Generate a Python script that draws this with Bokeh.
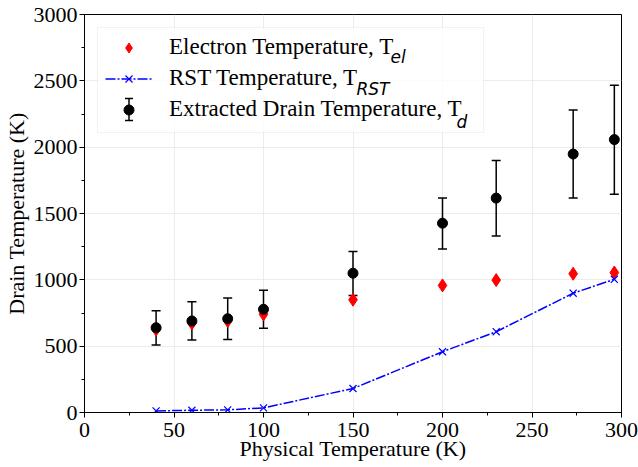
from bokeh.plotting import figure
from bokeh.models import (Range1d, SingleIntervalTicker, ColumnDataSource, Whisker,
                          TeeHead, Legend, LegendItem, Label, BoxAnnotation)
from bokeh.embed import file_html
from bokeh.resources import INLINE

# ---- data ----
phys_temp = [40, 60, 80, 100, 150, 200, 230, 273, 296]
t_el = [625, 672, 690, 740, 850, 958, 998, 1046, 1055]
t_rst = [12, 17, 20, 35, 181, 458, 609, 899, 1004]
t_d = [639, 690, 707, 778, 1050, 1427, 1616, 1948, 2057]
t_d_low = [508, 546, 551, 635, 882, 1233, 1331, 1616, 1646]
t_d_high = [767, 835, 863, 921, 1213, 1616, 1900, 2281, 2467]

legend_labels = ["Electron Temperature, T", "RST Temperature, T", "Extracted Drain Temperature, T"]
legend_subs = ["el", "RST", "d"]
x_label = "Physical Temperature (K)"
y_label = "Drain Temperature (K)"

SERIF = "Liberation Serif"

p = figure(width=638, height=467, x_range=Range1d(0, 300), y_range=Range1d(0, 3000),
           output_backend="svg", toolbar_location=None,
           min_border_left=83, min_border_right=17, min_border_top=14, min_border_bottom=55)

p.outline_line_color = "black"
p.outline_line_width = 1
p.background_fill_color = "white"
p.border_fill_color = "white"

p.xaxis.ticker = SingleIntervalTicker(interval=50, num_minor_ticks=2)
p.yaxis.ticker = SingleIntervalTicker(interval=500, num_minor_ticks=2)
for ax in (p.xaxis, p.yaxis):
    ax.major_label_text_font = SERIF
    ax.major_label_text_font_size = "22px"
    ax.major_label_text_color = "black"
    ax.axis_label_text_font = SERIF
    ax.axis_label_text_font_size = "22px"
    ax.axis_label_text_font_style = "normal"
    ax.axis_label_text_color = "black"
    ax.axis_line_color = "black"
    ax.major_tick_line_color = "black"
    ax.minor_tick_line_color = "black"
    ax.major_tick_in = 0
    ax.major_tick_out = 5
    ax.minor_tick_in = 0
    ax.minor_tick_out = 3
p.xaxis.axis_label = x_label
p.yaxis.axis_label = y_label
p.xaxis.major_label_standoff = 5
p.xaxis.axis_label_standoff = -4
p.yaxis.major_label_standoff = 2
p.yaxis.axis_label_standoff = 2

p.grid.grid_line_color = "#e7e7e7"
p.grid.grid_line_width = 0.8

# legend frame (drawn below the legend entries and subscripts)
p.add_layout(BoxAnnotation(left=13, right=399, bottom=280, top=385,
                           left_units="screen", right_units="screen",
                           bottom_units="screen", top_units="screen",
                           fill_color="white", fill_alpha=0.8,
                           line_color="#d4d4d4", line_width=1, level="underlay"))

# electron temperature
r_el = p.scatter(phys_temp, t_el, marker="diamond", size=13, fill_color="red", line_color="red")

# RST temperature
r_rst_line = p.line(phys_temp, t_rst, line_color="blue", line_width=1.5, line_dash="10 2 2 2")
r_rst_pts = p.scatter(phys_temp, t_rst, marker="x", size=10, line_color="blue", line_width=1.2)

# extracted drain temperature with error bars
src = ColumnDataSource(dict(x=phys_temp, lo=t_d_low, hi=t_d_high))
whisker = Whisker(source=src, base="x", lower="lo", upper="hi",
                  line_color="black", line_width=1.5,
                  upper_head=TeeHead(size=9, line_color="black", line_width=1.5),
                  lower_head=TeeHead(size=9, line_color="black", line_width=1.5))
p.add_layout(whisker)
r_d = p.scatter(phys_temp, t_d, marker="circle", size=10, fill_color="black", line_color="black")

# error-bar symbol for the legend entry (screen units)
legend_bar = ColumnDataSource(dict(b=[44.5], lo=[292], hi=[314]))
p.add_layout(Whisker(source=legend_bar, base="b", lower="lo", upper="hi",
                     base_units="screen", lower_units="screen", upper_units="screen",
                     line_color="black", line_width=1.5,
                     upper_head=TeeHead(size=8, line_color="black", line_width=1.5),
                     lower_head=TeeHead(size=8, line_color="black", line_width=1.5)))

legend = Legend(items=[
    LegendItem(label=legend_labels[0], renderers=[r_el]),
    LegendItem(label=legend_labels[1], renderers=[r_rst_line, r_rst_pts]),
    LegendItem(label=legend_labels[2], renderers=[r_d]),
], location=(13, 282))
legend.label_text_font = SERIF
legend.label_text_font_size = "23px"
legend.label_text_color = "black"
legend.padding = 8
legend.spacing = 5
legend.margin = 0
legend.glyph_width = 47
legend.glyph_height = 25
legend.label_height = 25
legend.label_standoff = 17
legend.border_line_alpha = 0
legend.background_fill_alpha = 0
p.add_layout(legend)

# subscripts (frame-relative screen coordinates)
sub_x = [306, 272, 372]
sub_y = [356, 324, 291]
for t, sx, sy in zip(legend_subs, sub_x, sub_y):
    p.add_layout(Label(x=sx, y=sy, x_units="screen", y_units="screen", text=t,
                       text_font="DejaVu Sans", text_font_style="italic",
                       text_font_size="17px", text_color="#000000",
                       text_baseline="alphabetic", text_align="left", level="overlay"))

open("out.html", "w").write(file_html(p, INLINE))
